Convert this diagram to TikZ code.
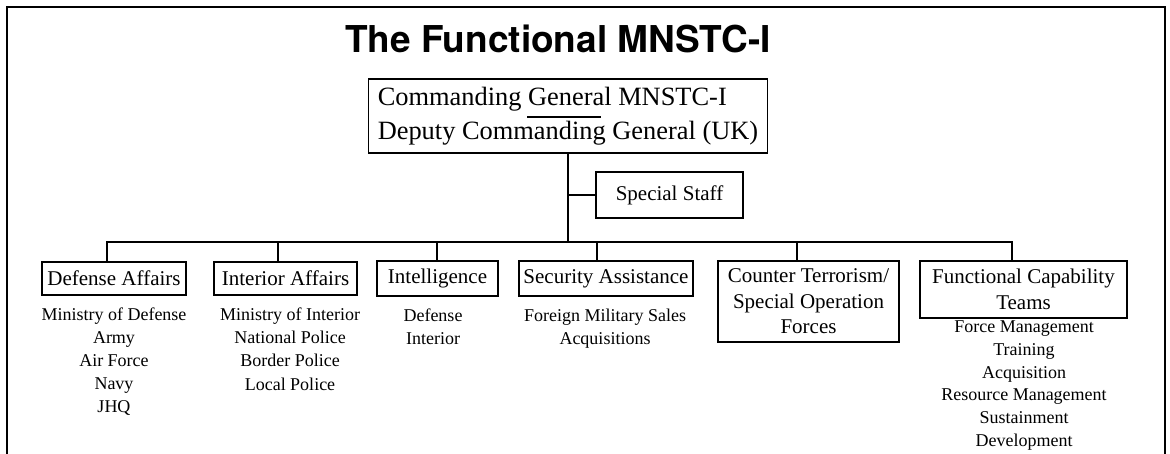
\documentclass[tikz,border=0pt]{standalone}
\usepackage{fontspec}
\setmainfont{Liberation Serif}
\newfontfamily\headfont{TeX Gyre Heros}
\usepackage{tikz}

\begin{document}
\begin{tikzpicture}[x=0.5pt, y=-0.5pt, line width=0.75pt,
    box/.style={draw, inner sep=0pt, align=center, font=\fontsize{10.5}{12.75}\selectfont},
    list/.style={anchor=north, inner sep=0pt, align=center, font=\fontsize{9}{11.4}\selectfont}]
    \useasboundingbox (0,0) rectangle (1170,454);
    \draw [line width=1pt] (7,454) -- (7,7) -- (1165,7) -- (1165,454);
    \node [anchor=base, inner sep=0pt, font=\headfont\bfseries\fontsize{18.5}{22}\selectfont] (title) at (558,53) {The Functional MNSTC-I};
    \node [box, align=left, minimum width=199.5pt, minimum height=37pt, font=\fontsize{13.2}{17}\selectfont] (cg) at (568,116) {Commanding General MNSTC-I\\Deputy Commanding General (UK)};
    \node [box, minimum width=73.5pt, minimum height=23pt] (staff) at (669.5,195) {Special Staff};
    \node [box, minimum width=72pt, minimum height=16.5pt] (defense) at (114,278.5) {Defense Affairs};
    \node [box, minimum width=71.5pt, minimum height=16.5pt] (interior) at (285.5,278.5) {Interior Affairs};
    \node [box, minimum width=60.5pt, minimum height=17.5pt] (intel) at (437.5,278.5) {Intelligence};
    \node [box, minimum width=87pt, minimum height=17.5pt] (security) at (606,278.5) {Security Assistance};
    \node [box, minimum width=90.5pt, minimum height=40.5pt] (counter) at (808.5,301.5) {Counter Terrorism/\\Special Operation\\Forces};
    \node [box, minimum width=103.5pt, minimum height=28.5pt] (fct) at (1023.5,289.5) {Functional Capability\\Teams};
    \node [list] (defenselist) at (114,307.5) {Ministry of Defense\\Army\\Air Force\\Navy\\JHQ};
    \node [list] (interiorlist) at (290,307.5) {Ministry of Interior\\National Police\\Border Police\\[0.5pt]Local Police};
    \node [list] (intellist) at (433,308.5) {Defense\\Interior};
    \node [list] (securitylist) at (605,308.5) {Foreign Military Sales\\Acquisitions};
    \node [list] (fctlist) at (1024,320) {Force Management\\Training\\Acquisition\\Resource Management\\Sustainment\\Development};
    \coordinate (bus) at (568,242);
    \draw (527,117) -- (601,117);
    \draw (cg.south) -- (bus);
    \draw (staff.west) -- (staff.west -| cg.south);
    \draw ([xshift=-3.5pt]defense.north) |- (bus);
    \draw ([xshift=-3.75pt]interior.north) |- (bus);
    \draw ([xshift=-0.25pt]intel.north) |- (bus);
    \draw ([xshift=-4.5pt]security.north) |- (bus);
    \draw ([xshift=-5.75pt]counter.north) |- (bus);
    \draw ([xshift=-5.75pt]fct.north) |- (bus);
\end{tikzpicture}
\end{document}
